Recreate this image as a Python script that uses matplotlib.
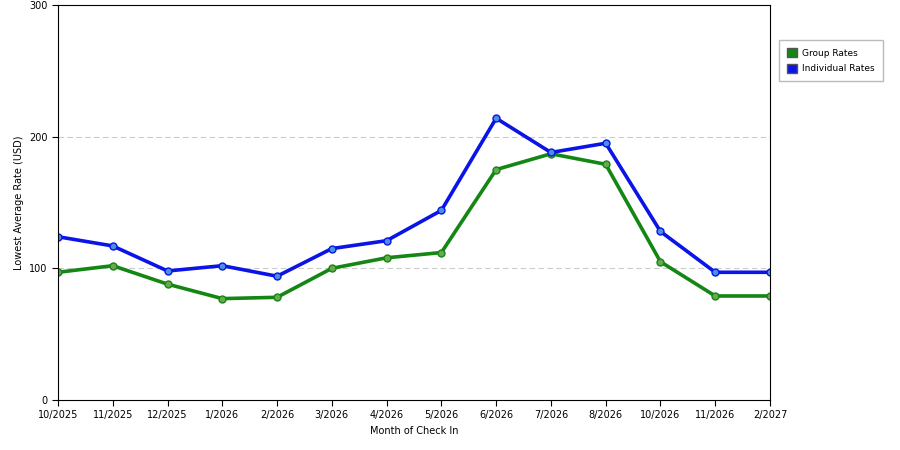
import matplotlib
matplotlib.use("Agg")
import matplotlib.pyplot as plt

months = ["10/2025","11/2025","12/2025","1/2026","2/2026","3/2026","4/2026","5/2026","6/2026","7/2026","8/2026","10/2026","11/2026","2/2027"]
group = [97, 102, 88, 77, 78, 100, 108, 112, 175, 187, 179, 105, 79, 79]
individual = [124, 117, 98, 102, 94, 115, 121, 144, 214, 188, 195, 128, 97, 97]

fig = plt.figure(figsize=(9, 4.5), dpi=100)
ax = fig.add_axes([58/900, 1-400/450, 712/900, 395/450])
x = list(range(len(months)))
ax.plot(x, group, color="#138613", lw=2.6, marker="o", ms=5, mfc="#6aa84f", mec="#138613", label="Group Rates")
ax.plot(x, individual, color="#0a14e6", lw=2.6, marker="o", ms=5, mfc="#4a90e2", mec="#0a14e6", label="Individual Rates")
ax.set_xlim(0, len(months)-1)
ax.set_ylim(0, 300)
ax.set_yticks([0, 100, 200, 300])
ax.set_xticks(x)
ax.set_xticklabels(months)
ax.tick_params(labelsize=7, length=4)
for yv in [100, 200]:
    ax.axhline(yv, color="#cccccc", lw=0.8, ls=(0, (5, 3)), zorder=0)
ax.set_xlabel("Month of Check In", fontsize=7)
ax.set_ylabel("Lowest Average Rate (USD)", fontsize=7)
fig.legend(handles=[
    plt.Rectangle((0,0),1,1,fc="#138613",ec="#555"),
    plt.Rectangle((0,0),1,1,fc="#0a14e6",ec="#555")],
    labels=["Group Rates","Individual Rates"],
    loc="upper left", bbox_to_anchor=(779/900, 1-40/450), borderaxespad=0, fontsize=6.5,
    fancybox=False, edgecolor="#aaaaaa", handlelength=1.1, handleheight=1.1, borderpad=0.9, labelspacing=0.7, handletextpad=0.6)
fig.savefig("out.png")
